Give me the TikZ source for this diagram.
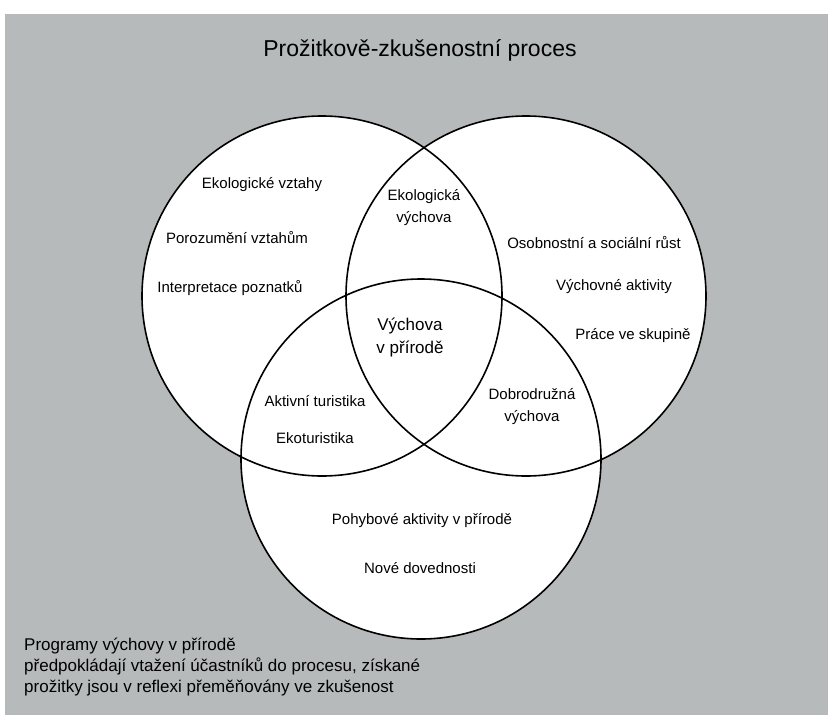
\documentclass[tikz,border=0pt]{standalone}
\usepackage{fontspec}
\setmainfont{Liberation Sans}
\definecolor{bgray}{RGB}{183,186,187}
\begin{document}
\begin{tikzpicture}[x=1pt,y=-1pt,
  lbl/.style={font=\fontsize{15}{22}\selectfont, align=center, inner sep=0pt},
  biglbl/.style={font=\fontsize{17}{23}\selectfont, align=center, inner sep=0pt},
  ring/.style={draw=black, line width=1.6pt}]
\useasboundingbox (0,0) rectangle (828,715);
\fill[white] (0,0) rectangle (828,715);
\fill[bgray] (5,14) rectangle (828,715);
\coordinate (cL) at (322,296);
\coordinate (cR) at (526,296);
\coordinate (cB) at (421,459);
\fill[white] (cL) circle[radius=180pt];
\fill[white] (cR) circle[radius=180pt];
\fill[white] (cB) circle[radius=180pt];
\draw[ring] (cL) circle[radius=180pt];
\draw[ring] (cR) circle[radius=180pt];
\draw[ring] (cB) circle[radius=180pt];
\node[font=\fontsize{23}{27}\selectfont, inner sep=0pt] (title) at (420,50) {Prožitkově-zkušenostní proces};
\node[lbl] (t1) at (262,185) {Ekologické vztahy};
\node[lbl] (t2) at (237,238) {Porozumění vztahům};
\node[lbl] (t3) at (230,288) {Interpretace poznatků};
\node[lbl] (t4) at (424,208) {Ekologická\\výchova};
\node[lbl] (t5) at (594,243) {Osobnostní a sociální růst};
\node[lbl] (t6) at (614,287) {Výchovné aktivity};
\node[lbl] (t7) at (633,336) {Práce ve skupině};
\node[biglbl] (t8) at (410,338) {Výchova\\v přírodě};
\node[lbl] (t9) at (315,401) {Aktivní turistika};
\node[lbl] (t10) at (315,438) {Ekoturistika};
\node[lbl] (t11) at (532,407) {Dobrodružná\\výchova};
\node[lbl] (t12) at (422,521) {Pohybové aktivity v přírodě};
\node[lbl] (t13) at (420,568) {Nové dovednosti};
\node[font=\fontsize{17}{21}\selectfont, align=left, inner sep=0pt, anchor=west] (foot) at (24,667)
  {Programy výchovy v přírodě\\předpokládají vtažení účastníků do procesu, získané\\prožitky jsou v reflexi přeměňovány ve zkušenost};
\end{tikzpicture}
\end{document}
